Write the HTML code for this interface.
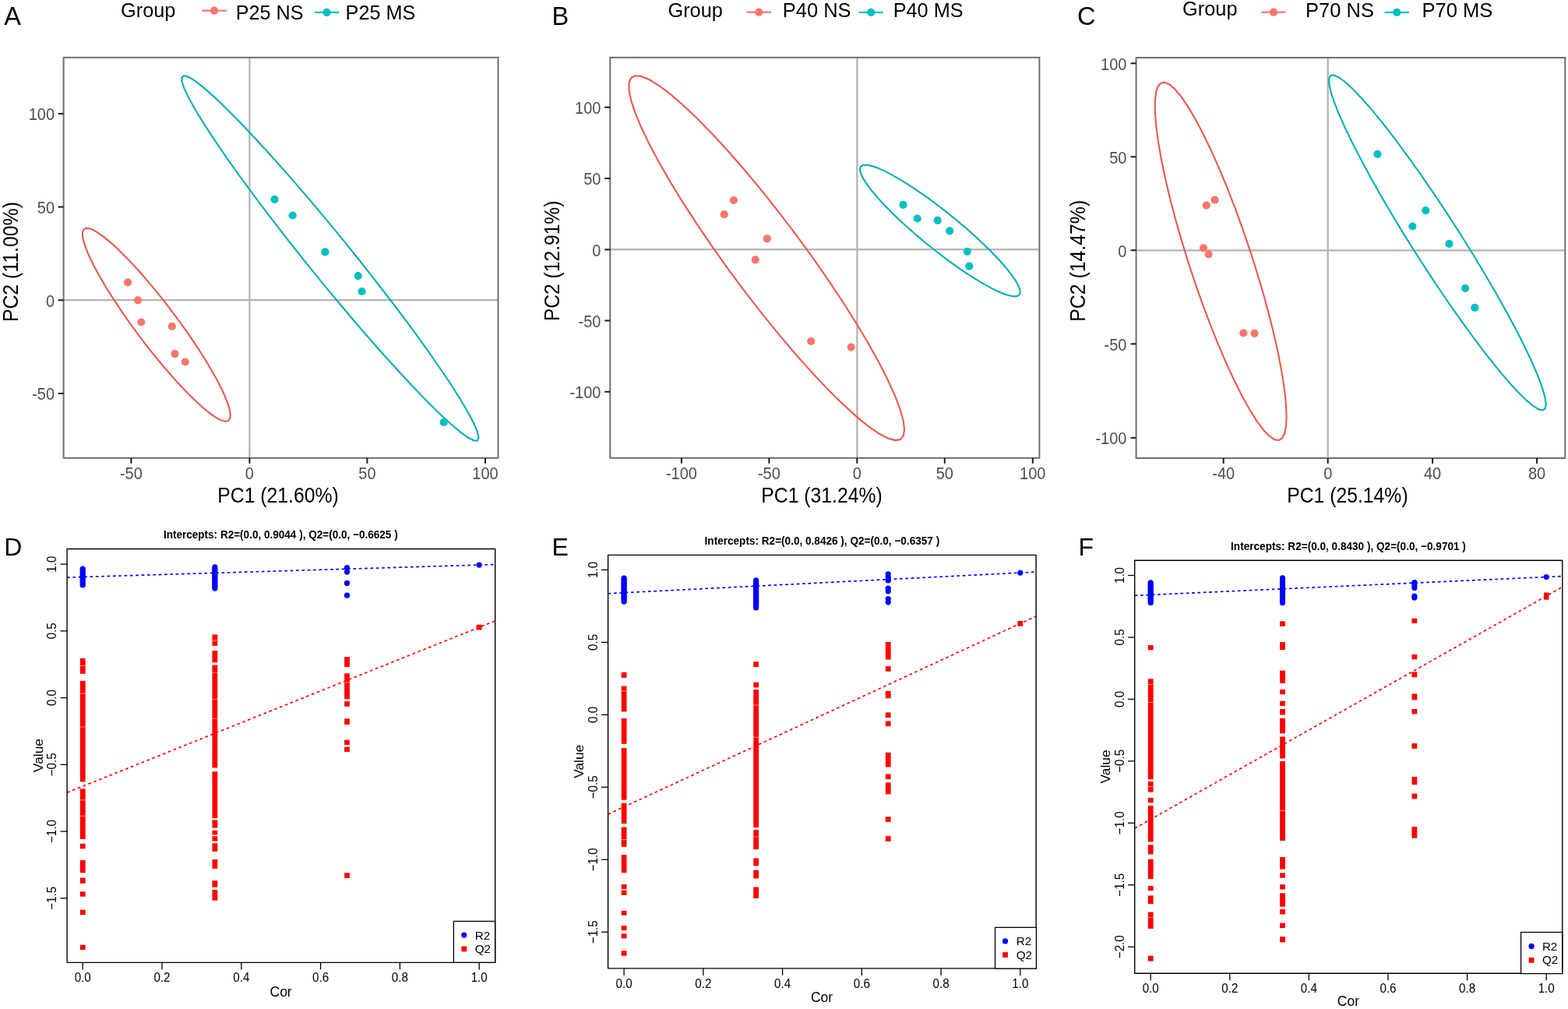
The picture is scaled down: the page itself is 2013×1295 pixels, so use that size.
<!DOCTYPE html>
<html><head><meta charset="utf-8"><title>PCA and permutation plots</title>
<style>html,body{margin:0;padding:0;background:#fff;}body{width:2013px;height:1295px;overflow:hidden;}svg{display:block;}</style>
</head><body>
<svg width="2013" height="1295" viewBox="0 0 2013 1295" font-family="Liberation Sans, Arial, sans-serif">
<rect width="2013" height="1295" fill="#fff"/>
<g>
<text x="5.3" y="32" font-size="32.5" fill="#000">A</text>
<text x="155.03" y="22.1" font-size="24.5" fill="#000" textLength="70.44" lengthAdjust="spacingAndGlyphs" transform="matrix(1,0,0,1.04,0,-0.88)">Group</text>
<line x1="259.3" y1="13.7" x2="290.9" y2="13.7" stroke="#F8766D" stroke-width="2.2"/>
<circle cx="275.1" cy="13.7" r="5.1" fill="#F8766D"/>
<text x="302.74" y="24.8" font-size="24.5" fill="#000" textLength="86.72" lengthAdjust="spacingAndGlyphs" transform="matrix(1,0,0,1.06,0,-1.49)">P25 NS</text>
<line x1="403.9" y1="15.9" x2="435.2" y2="15.9" stroke="#00BFC4" stroke-width="2.2"/>
<circle cx="419.55" cy="15.9" r="5.1" fill="#00BFC4"/>
<text x="443.63" y="24.8" font-size="24.5" fill="#000" textLength="89.73" lengthAdjust="spacingAndGlyphs" transform="matrix(1,0,0,1.06,0,-1.49)">P25 MS</text>
<line x1="81.6" y1="385.2" x2="639.5" y2="385.2" stroke="#B3B3B3" stroke-width="2.3"/>
<line x1="320.4" y1="73.8" x2="320.4" y2="587.8" stroke="#B3B3B3" stroke-width="2.3"/>
<path d="M295.82,533.31 L295.1,537.66 L292.95,540.18 L289.41,540.83 L284.52,539.6 L278.36,536.51 L271.03,531.6 L262.63,524.96 L253.29,516.67 L243.16,506.87 L232.39,495.71 L221.14,483.34 L209.58,469.97 L197.89,455.8 L186.24,441.03 L174.82,425.89 L163.78,410.62 L153.31,395.44 L143.56,380.59 L134.68,366.28 L126.8,352.74 L120.04,340.17 L114.51,328.76 L110.28,318.69 L107.43,310.1 L105.99,303.13 L105.99,297.88 L107.43,294.44 L110.28,292.85 L114.51,293.14 L120.04,295.31 L126.8,299.31 L134.68,305.1 L143.56,312.58 L153.31,321.64 L163.78,332.14 L174.82,343.93 L186.24,356.82 L197.89,370.62 L209.58,385.12 L221.14,400.1 L232.39,415.33 L243.16,430.59 L253.29,445.63 L262.63,460.24 L271.03,474.19 L278.36,487.27 L284.52,499.28 L289.41,510.05 L292.95,519.39 L295.1,527.19 L295.82,533.31 Z" fill="none" stroke="#EA5850" stroke-width="2.1" stroke-linejoin="round"/>
<path d="M614.44,561.8 L613,565.43 L608.68,565.51 L601.57,562.05 L591.76,555.08 L579.4,544.73 L564.68,531.15 L547.83,514.54 L529.09,495.15 L508.76,473.28 L487.14,449.27 L464.56,423.46 L441.37,396.27 L417.9,368.09 L394.53,339.35 L371.59,310.5 L349.45,281.96 L328.44,254.18 L308.87,227.56 L291.04,202.52 L275.23,179.44 L261.66,158.66 L250.56,140.5 L242.08,125.24 L236.35,113.1 L233.47,104.27 L233.47,98.88 L236.35,97.03 L242.08,98.72 L250.56,103.95 L261.66,112.62 L275.23,124.61 L291.04,139.73 L308.87,157.77 L328.44,178.43 L349.45,201.42 L371.59,226.38 L394.53,252.93 L417.9,280.67 L441.37,309.18 L464.56,338.03 L487.14,366.78 L508.76,394.99 L529.09,422.24 L547.83,448.12 L564.68,472.23 L579.4,494.2 L591.76,513.71 L601.57,530.45 L608.68,544.18 L613,554.68 L614.44,561.8 Z" fill="none" stroke="#00AEB3" stroke-width="2.1" stroke-linejoin="round"/>
<circle cx="164" cy="362.4" r="5.1" fill="#F8766D"/>
<circle cx="177" cy="385.4" r="5.1" fill="#F8766D"/>
<circle cx="181.3" cy="413.5" r="5.1" fill="#F8766D"/>
<circle cx="220.8" cy="418.9" r="5.1" fill="#F8766D"/>
<circle cx="224.4" cy="454.1" r="5.1" fill="#F8766D"/>
<circle cx="237.8" cy="464.5" r="5.1" fill="#F8766D"/>
<circle cx="352.5" cy="255.9" r="5.1" fill="#00BFC4"/>
<circle cx="375.7" cy="276.5" r="5.1" fill="#00BFC4"/>
<circle cx="417.4" cy="323.4" r="5.1" fill="#00BFC4"/>
<circle cx="459.8" cy="354.1" r="5.1" fill="#00BFC4"/>
<circle cx="464.5" cy="374" r="5.1" fill="#00BFC4"/>
<circle cx="569.7" cy="542" r="5.1" fill="#00BFC4"/>
<rect x="81.6" y="73.8" width="557.9" height="514" fill="none" stroke="#6E6E6E" stroke-width="2"/>
<line x1="168.4" y1="587.8" x2="168.4" y2="594.8" stroke="#1a1a1a" stroke-width="2"/>
<text x="168.4" y="615.1" font-size="20" fill="#4D4D4D" text-anchor="middle" transform="matrix(1,0,0,1.06,0,-36.91)">-50</text>
<line x1="320.4" y1="587.8" x2="320.4" y2="594.8" stroke="#1a1a1a" stroke-width="2"/>
<text x="320.4" y="615.1" font-size="20" fill="#4D4D4D" text-anchor="middle" transform="matrix(1,0,0,1.06,0,-36.91)">0</text>
<line x1="471.4" y1="587.8" x2="471.4" y2="594.8" stroke="#1a1a1a" stroke-width="2"/>
<text x="471.4" y="615.1" font-size="20" fill="#4D4D4D" text-anchor="middle" transform="matrix(1,0,0,1.06,0,-36.91)">50</text>
<line x1="623" y1="587.8" x2="623" y2="594.8" stroke="#1a1a1a" stroke-width="2"/>
<text x="623" y="615.1" font-size="20" fill="#4D4D4D" text-anchor="middle" transform="matrix(1,0,0,1.06,0,-36.91)">100</text>
<line x1="74.6" y1="145.9" x2="81.6" y2="145.9" stroke="#1a1a1a" stroke-width="2"/>
<text x="70.1" y="154.3" font-size="20" fill="#4D4D4D" text-anchor="end" transform="matrix(1,0,0,1.06,0,-9.26)">100</text>
<line x1="74.6" y1="265.6" x2="81.6" y2="265.6" stroke="#1a1a1a" stroke-width="2"/>
<text x="70.1" y="274" font-size="20" fill="#4D4D4D" text-anchor="end" transform="matrix(1,0,0,1.06,0,-16.44)">50</text>
<line x1="74.6" y1="385.3" x2="81.6" y2="385.3" stroke="#1a1a1a" stroke-width="2"/>
<text x="70.1" y="393.7" font-size="20" fill="#4D4D4D" text-anchor="end" transform="matrix(1,0,0,1.06,0,-23.62)">0</text>
<line x1="74.6" y1="505" x2="81.6" y2="505" stroke="#1a1a1a" stroke-width="2"/>
<text x="70.1" y="513.4" font-size="20" fill="#4D4D4D" text-anchor="end" transform="matrix(1,0,0,1.06,0,-30.8)">-50</text>
<text x="279.27" y="644.8" font-size="24.5" fill="#000" textLength="155.47" lengthAdjust="spacingAndGlyphs" transform="matrix(1,0,0,1.13,0,-83.82)">PC1 (21.60%)</text>
<text transform="translate(23.3,411.1) rotate(-90) scale(1,1.13)" x="-2.01" y="0" font-size="24.5" fill="#000" textLength="154.03" lengthAdjust="spacingAndGlyphs">PC2 (11.00%)</text>
</g>
<g>
<text x="708.5" y="31.8" font-size="32.5" fill="#000">B</text>
<text x="857.43" y="22.1" font-size="24.5" fill="#000" textLength="70.44" lengthAdjust="spacingAndGlyphs" transform="matrix(1,0,0,1.04,0,-0.88)">Group</text>
<line x1="958.5" y1="15.7" x2="990.1" y2="15.7" stroke="#F8766D" stroke-width="2.2"/>
<circle cx="974.3" cy="15.7" r="5.1" fill="#F8766D"/>
<text x="1004.81" y="22.3" font-size="24.5" fill="#000" textLength="87.76" lengthAdjust="spacingAndGlyphs" transform="matrix(1,0,0,1.06,0,-1.34)">P40 NS</text>
<line x1="1102.5" y1="15.9" x2="1133.8" y2="15.9" stroke="#00BFC4" stroke-width="2.2"/>
<circle cx="1118.15" cy="15.9" r="5.1" fill="#00BFC4"/>
<text x="1146.73" y="22.3" font-size="24.5" fill="#000" textLength="89.83" lengthAdjust="spacingAndGlyphs" transform="matrix(1,0,0,1.06,0,-1.34)">P40 MS</text>
<line x1="783.3" y1="320.2" x2="1334.4" y2="320.2" stroke="#B3B3B3" stroke-width="2.3"/>
<line x1="1100.4" y1="73.8" x2="1100.4" y2="587.8" stroke="#B3B3B3" stroke-width="2.3"/>
<path d="M1161.06,551.56 L1159.72,559.57 L1155.72,564.12 L1149.12,565.13 L1140.01,562.59 L1128.54,556.55 L1114.89,547.09 L1099.25,534.35 L1081.86,518.54 L1063,499.88 L1042.94,478.67 L1021.98,455.22 L1000.46,429.89 L978.68,403.06 L956.99,375.14 L935.71,346.55 L915.17,317.73 L895.67,289.12 L877.51,261.14 L860.96,234.22 L846.29,208.77 L833.7,185.17 L823.39,163.79 L815.52,144.94 L810.21,128.92 L807.53,115.96 L807.53,106.26 L810.21,99.98 L815.52,97.19 L823.39,97.96 L833.7,102.25 L846.29,110.02 L860.96,121.14 L877.51,135.44 L895.67,152.71 L915.17,172.68 L935.71,195.06 L956.99,219.49 L978.68,245.62 L1000.46,273.05 L1021.98,301.36 L1042.94,330.11 L1063,358.89 L1081.86,387.24 L1099.25,414.74 L1114.89,440.98 L1128.54,465.54 L1140.01,488.08 L1149.12,508.23 L1155.72,525.7 L1159.72,540.21 L1161.06,551.56 Z" fill="none" stroke="#EA5850" stroke-width="2.1" stroke-linejoin="round"/>
<path d="M1309.74,374.84 L1308.96,377.97 L1306.63,379.87 L1302.79,380.49 L1297.5,379.83 L1290.83,377.9 L1282.89,374.73 L1273.79,370.37 L1263.68,364.88 L1252.71,358.34 L1241.05,350.86 L1228.86,342.56 L1216.34,333.54 L1203.68,323.96 L1191.07,313.95 L1178.69,303.67 L1166.74,293.28 L1155.4,282.93 L1144.84,272.78 L1135.22,262.98 L1126.69,253.68 L1119.37,245.02 L1113.38,237.14 L1108.8,230.15 L1105.71,224.15 L1104.15,219.25 L1104.15,215.51 L1105.71,213 L1108.8,211.74 L1113.38,211.76 L1119.37,213.05 L1126.69,215.61 L1135.22,219.38 L1144.84,224.32 L1155.4,230.34 L1166.74,237.36 L1178.69,245.27 L1191.07,253.95 L1203.68,263.26 L1216.34,273.07 L1228.86,283.24 L1241.05,293.59 L1252.71,303.98 L1263.68,314.26 L1273.79,324.25 L1282.89,333.82 L1290.83,342.81 L1297.5,351.1 L1302.79,358.55 L1306.63,365.05 L1308.96,370.51 L1309.74,374.84 Z" fill="none" stroke="#00AEB3" stroke-width="2.1" stroke-linejoin="round"/>
<circle cx="941.9" cy="257" r="5.1" fill="#F8766D"/>
<circle cx="929.7" cy="275.2" r="5.1" fill="#F8766D"/>
<circle cx="984.8" cy="306.3" r="5.1" fill="#F8766D"/>
<circle cx="969.8" cy="333.3" r="5.1" fill="#F8766D"/>
<circle cx="1041.2" cy="438" r="5.1" fill="#F8766D"/>
<circle cx="1092.7" cy="445.6" r="5.1" fill="#F8766D"/>
<circle cx="1159.5" cy="262.9" r="5.1" fill="#00BFC4"/>
<circle cx="1177.7" cy="280.5" r="5.1" fill="#00BFC4"/>
<circle cx="1203.7" cy="282.9" r="5.1" fill="#00BFC4"/>
<circle cx="1219.2" cy="296.3" r="5.1" fill="#00BFC4"/>
<circle cx="1241.8" cy="322.8" r="5.1" fill="#00BFC4"/>
<circle cx="1244.3" cy="341.7" r="5.1" fill="#00BFC4"/>
<rect x="783.3" y="73.8" width="551.1" height="514" fill="none" stroke="#6E6E6E" stroke-width="2"/>
<line x1="874.9" y1="587.8" x2="874.9" y2="594.8" stroke="#1a1a1a" stroke-width="2"/>
<text x="874.9" y="615.1" font-size="20" fill="#4D4D4D" text-anchor="middle" transform="matrix(1,0,0,1.06,0,-36.91)">-100</text>
<line x1="987.4" y1="587.8" x2="987.4" y2="594.8" stroke="#1a1a1a" stroke-width="2"/>
<text x="987.4" y="615.1" font-size="20" fill="#4D4D4D" text-anchor="middle" transform="matrix(1,0,0,1.06,0,-36.91)">-50</text>
<line x1="1100.3" y1="587.8" x2="1100.3" y2="594.8" stroke="#1a1a1a" stroke-width="2"/>
<text x="1100.3" y="615.1" font-size="20" fill="#4D4D4D" text-anchor="middle" transform="matrix(1,0,0,1.06,0,-36.91)">0</text>
<line x1="1212.8" y1="587.8" x2="1212.8" y2="594.8" stroke="#1a1a1a" stroke-width="2"/>
<text x="1212.8" y="615.1" font-size="20" fill="#4D4D4D" text-anchor="middle" transform="matrix(1,0,0,1.06,0,-36.91)">50</text>
<line x1="1325.8" y1="587.8" x2="1325.8" y2="594.8" stroke="#1a1a1a" stroke-width="2"/>
<text x="1325.8" y="615.1" font-size="20" fill="#4D4D4D" text-anchor="middle" transform="matrix(1,0,0,1.06,0,-36.91)">100</text>
<line x1="776.3" y1="137.7" x2="783.3" y2="137.7" stroke="#1a1a1a" stroke-width="2"/>
<text x="771.4" y="146.1" font-size="20" fill="#4D4D4D" text-anchor="end" transform="matrix(1,0,0,1.06,0,-8.77)">100</text>
<line x1="776.3" y1="229" x2="783.3" y2="229" stroke="#1a1a1a" stroke-width="2"/>
<text x="771.4" y="237.4" font-size="20" fill="#4D4D4D" text-anchor="end" transform="matrix(1,0,0,1.06,0,-14.24)">50</text>
<line x1="776.3" y1="320.3" x2="783.3" y2="320.3" stroke="#1a1a1a" stroke-width="2"/>
<text x="771.4" y="328.7" font-size="20" fill="#4D4D4D" text-anchor="end" transform="matrix(1,0,0,1.06,0,-19.72)">0</text>
<line x1="776.3" y1="411.5" x2="783.3" y2="411.5" stroke="#1a1a1a" stroke-width="2"/>
<text x="771.4" y="419.9" font-size="20" fill="#4D4D4D" text-anchor="end" transform="matrix(1,0,0,1.06,0,-25.19)">-50</text>
<line x1="776.3" y1="502.8" x2="783.3" y2="502.8" stroke="#1a1a1a" stroke-width="2"/>
<text x="771.4" y="511.2" font-size="20" fill="#4D4D4D" text-anchor="end" transform="matrix(1,0,0,1.06,0,-30.67)">-100</text>
<text x="977.27" y="644.8" font-size="24.5" fill="#000" textLength="155.47" lengthAdjust="spacingAndGlyphs" transform="matrix(1,0,0,1.13,0,-83.82)">PC1 (31.24%)</text>
<text transform="translate(718,410.1) rotate(-90) scale(1,1.13)" x="-2.02" y="0" font-size="24.5" fill="#000" textLength="154.54" lengthAdjust="spacingAndGlyphs">PC2 (12.91%)</text>
</g>
<g>
<text x="1383" y="32" font-size="32.5" fill="#000">C</text>
<text x="1518.13" y="20.4" font-size="24.5" fill="#000" textLength="70.44" lengthAdjust="spacingAndGlyphs" transform="matrix(1,0,0,1.04,0,-0.82)">Group</text>
<line x1="1619.3" y1="15.7" x2="1650.6" y2="15.7" stroke="#F8766D" stroke-width="2.2"/>
<circle cx="1634.95" cy="15.7" r="5.1" fill="#F8766D"/>
<text x="1676.11" y="22.1" font-size="24.5" fill="#000" textLength="87.86" lengthAdjust="spacingAndGlyphs" transform="matrix(1,0,0,1.06,0,-1.33)">P70 NS</text>
<line x1="1777.5" y1="15.9" x2="1809" y2="15.9" stroke="#00BFC4" stroke-width="2.2"/>
<circle cx="1793.25" cy="15.9" r="5.1" fill="#00BFC4"/>
<text x="1825.5" y="22.1" font-size="24.5" fill="#000" textLength="90.87" lengthAdjust="spacingAndGlyphs" transform="matrix(1,0,0,1.06,0,-1.33)">P70 MS</text>
<line x1="1458.6" y1="321.3" x2="2009.3" y2="321.3" stroke="#B3B3B3" stroke-width="2.3"/>
<line x1="1704.7" y1="74" x2="1704.7" y2="588" stroke="#B3B3B3" stroke-width="2.3"/>
<path d="M1651.65,534.62 L1651.01,547.18 L1649.1,556.52 L1645.95,562.52 L1641.6,565.06 L1636.13,564.13 L1629.61,559.73 L1622.14,551.93 L1613.84,540.84 L1604.83,526.64 L1595.25,509.54 L1585.25,489.8 L1574.97,467.72 L1564.58,443.63 L1554.22,417.9 L1544.06,390.92 L1534.25,363.1 L1524.94,334.86 L1516.27,306.62 L1508.38,278.82 L1501.37,251.88 L1495.36,226.2 L1490.44,202.18 L1486.68,180.17 L1484.15,160.52 L1482.87,143.52 L1482.87,129.43 L1484.15,118.46 L1486.68,110.77 L1490.44,106.49 L1495.36,105.68 L1501.37,108.36 L1508.38,114.47 L1516.27,123.93 L1524.94,136.6 L1534.25,152.28 L1544.06,170.73 L1554.22,191.68 L1564.58,214.81 L1574.97,239.77 L1585.25,266.17 L1595.25,293.63 L1604.83,321.71 L1613.84,350.01 L1622.14,378.08 L1629.61,405.5 L1636.13,431.86 L1641.6,456.76 L1645.95,479.82 L1649.1,500.68 L1651.01,519.04 L1651.65,534.62 Z" fill="none" stroke="#EA5850" stroke-width="2.1" stroke-linejoin="round"/>
<path d="M1984.7,519.1 L1983.64,524.43 L1980.49,526.53 L1975.29,525.36 L1968.12,520.96 L1959.09,513.38 L1948.34,502.73 L1936.02,489.19 L1922.33,472.94 L1907.48,454.26 L1891.68,433.4 L1875.18,410.69 L1858.23,386.48 L1841.09,361.14 L1824.01,335.03 L1807.25,308.57 L1791.07,282.15 L1775.72,256.18 L1761.42,231.04 L1748.39,207.12 L1736.83,184.78 L1726.92,164.36 L1718.81,146.17 L1712.61,130.48 L1708.43,117.54 L1706.32,107.53 L1706.32,100.62 L1708.43,96.9 L1712.61,96.43 L1718.81,99.22 L1726.92,105.22 L1736.83,114.35 L1748.39,126.47 L1761.42,141.39 L1775.72,158.89 L1791.07,178.7 L1807.25,200.52 L1824.01,224.03 L1841.09,248.85 L1858.23,274.63 L1875.18,300.96 L1891.68,327.45 L1907.48,353.7 L1922.33,379.3 L1936.02,403.88 L1948.34,427.05 L1959.09,448.47 L1968.12,467.81 L1975.29,484.78 L1980.49,499.13 L1983.64,510.62 L1984.7,519.1 Z" fill="none" stroke="#00AEB3" stroke-width="2.1" stroke-linejoin="round"/>
<circle cx="1548.8" cy="263.6" r="5.1" fill="#F8766D"/>
<circle cx="1559.6" cy="256.7" r="5.1" fill="#F8766D"/>
<circle cx="1545" cy="318.4" r="5.1" fill="#F8766D"/>
<circle cx="1551.6" cy="326.4" r="5.1" fill="#F8766D"/>
<circle cx="1596.4" cy="427.5" r="5.1" fill="#F8766D"/>
<circle cx="1610.6" cy="427.8" r="5.1" fill="#F8766D"/>
<circle cx="1768.5" cy="197.8" r="5.1" fill="#00BFC4"/>
<circle cx="1830.3" cy="270.1" r="5.1" fill="#00BFC4"/>
<circle cx="1813.4" cy="290.5" r="5.1" fill="#00BFC4"/>
<circle cx="1860.5" cy="312.9" r="5.1" fill="#00BFC4"/>
<circle cx="1881.1" cy="370" r="5.1" fill="#00BFC4"/>
<circle cx="1893.3" cy="394.9" r="5.1" fill="#00BFC4"/>
<rect x="1458.6" y="74" width="550.7" height="514" fill="none" stroke="#6E6E6E" stroke-width="2"/>
<line x1="1570.7" y1="588" x2="1570.7" y2="595" stroke="#1a1a1a" stroke-width="2"/>
<text x="1570.7" y="615.3" font-size="20" fill="#4D4D4D" text-anchor="middle" transform="matrix(1,0,0,1.06,0,-36.92)">-40</text>
<line x1="1704.7" y1="588" x2="1704.7" y2="595" stroke="#1a1a1a" stroke-width="2"/>
<text x="1704.7" y="615.3" font-size="20" fill="#4D4D4D" text-anchor="middle" transform="matrix(1,0,0,1.06,0,-36.92)">0</text>
<line x1="1839.1" y1="588" x2="1839.1" y2="595" stroke="#1a1a1a" stroke-width="2"/>
<text x="1839.1" y="615.3" font-size="20" fill="#4D4D4D" text-anchor="middle" transform="matrix(1,0,0,1.06,0,-36.92)">40</text>
<line x1="1973.1" y1="588" x2="1973.1" y2="595" stroke="#1a1a1a" stroke-width="2"/>
<text x="1973.1" y="615.3" font-size="20" fill="#4D4D4D" text-anchor="middle" transform="matrix(1,0,0,1.06,0,-36.92)">80</text>
<line x1="1451.6" y1="81.3" x2="1458.6" y2="81.3" stroke="#1a1a1a" stroke-width="2"/>
<text x="1446.4" y="89.7" font-size="20" fill="#4D4D4D" text-anchor="end" transform="matrix(1,0,0,1.06,0,-5.38)">100</text>
<line x1="1451.6" y1="201.3" x2="1458.6" y2="201.3" stroke="#1a1a1a" stroke-width="2"/>
<text x="1446.4" y="209.7" font-size="20" fill="#4D4D4D" text-anchor="end" transform="matrix(1,0,0,1.06,0,-12.58)">50</text>
<line x1="1451.6" y1="321.2" x2="1458.6" y2="321.2" stroke="#1a1a1a" stroke-width="2"/>
<text x="1446.4" y="329.6" font-size="20" fill="#4D4D4D" text-anchor="end" transform="matrix(1,0,0,1.06,0,-19.78)">0</text>
<line x1="1451.6" y1="441.4" x2="1458.6" y2="441.4" stroke="#1a1a1a" stroke-width="2"/>
<text x="1446.4" y="449.8" font-size="20" fill="#4D4D4D" text-anchor="end" transform="matrix(1,0,0,1.06,0,-26.99)">-50</text>
<line x1="1451.6" y1="561.9" x2="1458.6" y2="561.9" stroke="#1a1a1a" stroke-width="2"/>
<text x="1446.4" y="570.3" font-size="20" fill="#4D4D4D" text-anchor="end" transform="matrix(1,0,0,1.06,0,-34.22)">-100</text>
<text x="1652.17" y="644.8" font-size="24.5" fill="#000" textLength="155.47" lengthAdjust="spacingAndGlyphs" transform="matrix(1,0,0,1.13,0,-83.82)">PC1 (25.14%)</text>
<text transform="translate(1393.3,410.8) rotate(-90) scale(1,1.13)" x="-2.04" y="0" font-size="24.5" fill="#000" textLength="156.08" lengthAdjust="spacingAndGlyphs">PC2 (14.47%)</text>
</g>
<g>
<text x="5.3" y="713.2" font-size="32" fill="#000">D</text>
<text x="209.89" y="691.5" font-size="14" font-weight="bold" fill="#000" textLength="300.78" lengthAdjust="spacingAndGlyphs" transform="matrix(1,0,0,1.05,0,-34.58)">Intercepts: R2=(0.0, 0.9044 ), Q2=(0.0, −0.6625 )</text>
<clipPath id="clipD"><rect x="86.1" y="704.5" width="549.6" height="530.9"/></clipPath>
<g clip-path="url(#clipD)">
<circle cx="106.2" cy="730.1" r="3.6" fill="#0000FF"/>
<circle cx="106.2" cy="732.19" r="3.6" fill="#0000FF"/>
<circle cx="106.2" cy="734.28" r="3.6" fill="#0000FF"/>
<circle cx="106.2" cy="736.37" r="3.6" fill="#0000FF"/>
<circle cx="106.2" cy="738.46" r="3.6" fill="#0000FF"/>
<circle cx="106.2" cy="740.55" r="3.6" fill="#0000FF"/>
<circle cx="106.2" cy="742.64" r="3.6" fill="#0000FF"/>
<circle cx="106.2" cy="744.73" r="3.6" fill="#0000FF"/>
<circle cx="106.2" cy="746.82" r="3.6" fill="#0000FF"/>
<circle cx="106.2" cy="748.91" r="3.6" fill="#0000FF"/>
<circle cx="106.2" cy="751" r="3.6" fill="#0000FF"/>
<circle cx="275.87" cy="727.9" r="3.6" fill="#0000FF"/>
<circle cx="275.87" cy="729.84" r="3.6" fill="#0000FF"/>
<circle cx="275.87" cy="731.79" r="3.6" fill="#0000FF"/>
<circle cx="275.87" cy="733.73" r="3.6" fill="#0000FF"/>
<circle cx="275.87" cy="735.67" r="3.6" fill="#0000FF"/>
<circle cx="275.87" cy="737.61" r="3.6" fill="#0000FF"/>
<circle cx="275.87" cy="739.56" r="3.6" fill="#0000FF"/>
<circle cx="275.87" cy="741.5" r="3.6" fill="#0000FF"/>
<circle cx="275.87" cy="743.44" r="3.6" fill="#0000FF"/>
<circle cx="275.87" cy="745.39" r="3.6" fill="#0000FF"/>
<circle cx="275.87" cy="747.33" r="3.6" fill="#0000FF"/>
<circle cx="275.87" cy="749.27" r="3.6" fill="#0000FF"/>
<circle cx="275.87" cy="751.21" r="3.6" fill="#0000FF"/>
<circle cx="275.87" cy="753.16" r="3.6" fill="#0000FF"/>
<circle cx="275.87" cy="755.1" r="3.6" fill="#0000FF"/>
<circle cx="445.53" cy="728.7" r="3.6" fill="#0000FF"/>
<circle cx="445.53" cy="734.1" r="3.6" fill="#0000FF"/>
<circle cx="445.53" cy="748.4" r="3.6" fill="#0000FF"/>
<circle cx="445.53" cy="764.2" r="3.6" fill="#0000FF"/>
<circle cx="615.2" cy="725.1" r="3.6" fill="#0000FF"/>
<rect x="102.8" y="844.9" width="6.8" height="19.9" fill="#FF0000"/>
<rect x="102.8" y="854.25" width="6.8" height="0.7" fill="#fff" opacity="0.75"/>
<rect x="102.8" y="873.8" width="6.8" height="129.6" fill="#FF0000"/>
<rect x="102.8" y="889.65" width="6.8" height="0.7" fill="#fff" opacity="0.75"/>
<rect x="102.8" y="932.65" width="6.8" height="0.7" fill="#fff" opacity="0.75"/>
<rect x="102.8" y="1012.3" width="6.8" height="64.6" fill="#FF0000"/>
<rect x="102.8" y="1026.55" width="6.8" height="0.7" fill="#fff" opacity="0.75"/>
<rect x="102.8" y="1046.85" width="6.8" height="0.7" fill="#fff" opacity="0.75"/>
<rect x="102.8" y="1082.8" width="6.8" height="6.5" fill="#FF0000"/>
<rect x="102.8" y="1104" width="6.8" height="16.2" fill="#FF0000"/>
<rect x="102.8" y="1126.6" width="6.8" height="7.2" fill="#FF0000"/>
<rect x="102.8" y="1144.3" width="6.8" height="6.4" fill="#FF0000"/>
<rect x="102.8" y="1167.7" width="6.8" height="6.5" fill="#FF0000"/>
<rect x="102.8" y="1212.7" width="6.8" height="6.3" fill="#FF0000"/>
<rect x="272.47" y="814.4" width="6.8" height="14.5" fill="#FF0000"/>
<rect x="272.47" y="821.65" width="6.8" height="0.7" fill="#fff" opacity="0.75"/>
<rect x="272.47" y="835.1" width="6.8" height="15.3" fill="#FF0000"/>
<rect x="272.47" y="853.5" width="6.8" height="131.9" fill="#FF0000"/>
<rect x="272.47" y="862.85" width="6.8" height="0.7" fill="#fff" opacity="0.75"/>
<rect x="272.47" y="897.25" width="6.8" height="0.7" fill="#fff" opacity="0.75"/>
<rect x="272.47" y="921.85" width="6.8" height="0.7" fill="#fff" opacity="0.75"/>
<rect x="272.47" y="990.2" width="6.8" height="60" fill="#FF0000"/>
<rect x="272.47" y="1052.4" width="6.8" height="10.2" fill="#FF0000"/>
<rect x="272.47" y="1065.7" width="6.8" height="5.8" fill="#FF0000"/>
<rect x="272.47" y="1073.2" width="6.8" height="6.4" fill="#FF0000"/>
<rect x="272.47" y="1082.2" width="6.8" height="10.7" fill="#FF0000"/>
<rect x="272.47" y="1103" width="6.8" height="11.9" fill="#FF0000"/>
<rect x="272.47" y="1130.2" width="6.8" height="8.5" fill="#FF0000"/>
<rect x="272.47" y="1142.1" width="6.8" height="13.6" fill="#FF0000"/>
<rect x="442.13" y="843.1" width="6.8" height="12.8" fill="#FF0000"/>
<rect x="442.13" y="864.3" width="6.8" height="33" fill="#FF0000"/>
<rect x="442.13" y="875.35" width="6.8" height="0.7" fill="#fff" opacity="0.75"/>
<rect x="442.13" y="900" width="6.8" height="6.8" fill="#FF0000"/>
<rect x="442.13" y="922.4" width="6.8" height="7.5" fill="#FF0000"/>
<rect x="442.13" y="949.6" width="6.8" height="6.4" fill="#FF0000"/>
<rect x="442.13" y="958.6" width="6.8" height="6.4" fill="#FF0000"/>
<rect x="442.13" y="1120.3" width="6.8" height="6.7" fill="#FF0000"/>
<rect x="611.8" y="801.7" width="6.8" height="6.8" fill="#FF0000"/>
<line x1="86.1" y1="741.09" x2="635.7" y2="724.48" stroke="#0000FF" stroke-width="1.7" stroke-dasharray="3.7 3.65"/>
<line x1="86.1" y1="1017.22" x2="635.7" y2="796.88" stroke="#FF0000" stroke-width="1.7" stroke-dasharray="3.7 3.65"/>
</g>
<rect x="86.1" y="704.5" width="549.6" height="530.9" fill="none" stroke="#000" stroke-width="1.4" stroke-linejoin="round"/>
<line x1="106.2" y1="1235.4" x2="106.2" y2="1244.4" stroke="#000" stroke-width="1.3"/>
<text x="106.2" y="1260.5" font-size="15.2" fill="#000" text-anchor="middle" transform="matrix(1,0,0,1.09,0,-113.45)">0.0</text>
<line x1="208" y1="1235.4" x2="208" y2="1244.4" stroke="#000" stroke-width="1.3"/>
<text x="208" y="1260.5" font-size="15.2" fill="#000" text-anchor="middle" transform="matrix(1,0,0,1.09,0,-113.45)">0.2</text>
<line x1="309.8" y1="1235.4" x2="309.8" y2="1244.4" stroke="#000" stroke-width="1.3"/>
<text x="309.8" y="1260.5" font-size="15.2" fill="#000" text-anchor="middle" transform="matrix(1,0,0,1.09,0,-113.45)">0.4</text>
<line x1="411.6" y1="1235.4" x2="411.6" y2="1244.4" stroke="#000" stroke-width="1.3"/>
<text x="411.6" y="1260.5" font-size="15.2" fill="#000" text-anchor="middle" transform="matrix(1,0,0,1.09,0,-113.45)">0.6</text>
<line x1="513.4" y1="1235.4" x2="513.4" y2="1244.4" stroke="#000" stroke-width="1.3"/>
<text x="513.4" y="1260.5" font-size="15.2" fill="#000" text-anchor="middle" transform="matrix(1,0,0,1.09,0,-113.45)">0.8</text>
<line x1="615.2" y1="1235.4" x2="615.2" y2="1244.4" stroke="#000" stroke-width="1.3"/>
<text x="615.2" y="1260.5" font-size="15.2" fill="#000" text-anchor="middle" transform="matrix(1,0,0,1.09,0,-113.45)">1.0</text>
<line x1="77.5" y1="724.09" x2="86.1" y2="724.09" stroke="#000" stroke-width="1.3"/>
<text transform="translate(72,724.09) rotate(-90) scale(1,1.09)" font-size="15.2" fill="#000" text-anchor="middle">1.0</text>
<line x1="77.5" y1="809.82" x2="86.1" y2="809.82" stroke="#000" stroke-width="1.3"/>
<text transform="translate(72,809.82) rotate(-90) scale(1,1.09)" font-size="15.2" fill="#000" text-anchor="middle">0.5</text>
<line x1="77.5" y1="895.56" x2="86.1" y2="895.56" stroke="#000" stroke-width="1.3"/>
<text transform="translate(72,895.56) rotate(-90) scale(1,1.09)" font-size="15.2" fill="#000" text-anchor="middle">0.0</text>
<line x1="77.5" y1="981.29" x2="86.1" y2="981.29" stroke="#000" stroke-width="1.3"/>
<text transform="translate(72,981.29) rotate(-90) scale(1,1.09)" font-size="15.2" fill="#000" text-anchor="middle">−0.5</text>
<line x1="77.5" y1="1067.03" x2="86.1" y2="1067.03" stroke="#000" stroke-width="1.3"/>
<text transform="translate(72,1067.03) rotate(-90) scale(1,1.09)" font-size="15.2" fill="#000" text-anchor="middle">−1.0</text>
<line x1="77.5" y1="1152.76" x2="86.1" y2="1152.76" stroke="#000" stroke-width="1.3"/>
<text transform="translate(72,1152.76) rotate(-90) scale(1,1.09)" font-size="15.2" fill="#000" text-anchor="middle">−1.5</text>
<text x="346.51" y="1278.5" font-size="17.5" fill="#000" textLength="28.18" lengthAdjust="spacingAndGlyphs">Cor</text>
<text transform="translate(54.6,991.1) rotate(-90)" x="-0.07" y="0" font-size="17.2" fill="#000" textLength="43.12" lengthAdjust="spacingAndGlyphs">Value</text>
<rect x="582.4" y="1182.4" width="53.2" height="52.9" fill="#fff" stroke="#000" stroke-width="1.3"/>
<circle cx="595.8" cy="1200.1" r="3.6" fill="#0000FF"/>
<rect x="592.4" y="1214.5" width="6.8" height="6.8" fill="#FF0000"/>
<text x="609.8" y="1205.7" font-size="15.2" fill="#000">R2</text>
<text x="609.8" y="1223.1" font-size="15.2" fill="#000">Q2</text>
</g>
<g>
<text x="708.4" y="713.2" font-size="32" fill="#000">E</text>
<text x="904.59" y="699.1" font-size="14" font-weight="bold" fill="#000" textLength="301.58" lengthAdjust="spacingAndGlyphs" transform="matrix(1,0,0,1.05,0,-34.96)">Intercepts: R2=(0.0, 0.8426 ), Q2=(0.0, −0.6357 )</text>
<clipPath id="clipE"><rect x="780.6" y="712.4" width="549.5" height="530.5"/></clipPath>
<g clip-path="url(#clipE)">
<circle cx="801.1" cy="742.2" r="3.6" fill="#0000FF"/>
<circle cx="801.1" cy="744.2" r="3.6" fill="#0000FF"/>
<circle cx="801.1" cy="746.2" r="3.6" fill="#0000FF"/>
<circle cx="801.1" cy="748.2" r="3.6" fill="#0000FF"/>
<circle cx="801.1" cy="750.2" r="3.6" fill="#0000FF"/>
<circle cx="801.1" cy="752.2" r="3.6" fill="#0000FF"/>
<circle cx="801.1" cy="754.2" r="3.6" fill="#0000FF"/>
<circle cx="801.1" cy="756.2" r="3.6" fill="#0000FF"/>
<circle cx="801.1" cy="758.2" r="3.6" fill="#0000FF"/>
<circle cx="801.1" cy="760.2" r="3.6" fill="#0000FF"/>
<circle cx="801.1" cy="762.2" r="3.6" fill="#0000FF"/>
<circle cx="801.1" cy="764.2" r="3.6" fill="#0000FF"/>
<circle cx="801.1" cy="766.2" r="3.6" fill="#0000FF"/>
<circle cx="801.1" cy="768.2" r="3.6" fill="#0000FF"/>
<circle cx="801.1" cy="770.2" r="3.6" fill="#0000FF"/>
<circle cx="801.1" cy="772.2" r="3.6" fill="#0000FF"/>
<circle cx="970.67" cy="744.8" r="3.6" fill="#0000FF"/>
<circle cx="970.67" cy="746.76" r="3.6" fill="#0000FF"/>
<circle cx="970.67" cy="748.71" r="3.6" fill="#0000FF"/>
<circle cx="970.67" cy="750.67" r="3.6" fill="#0000FF"/>
<circle cx="970.67" cy="752.62" r="3.6" fill="#0000FF"/>
<circle cx="970.67" cy="754.58" r="3.6" fill="#0000FF"/>
<circle cx="970.67" cy="756.53" r="3.6" fill="#0000FF"/>
<circle cx="970.67" cy="758.49" r="3.6" fill="#0000FF"/>
<circle cx="970.67" cy="760.44" r="3.6" fill="#0000FF"/>
<circle cx="970.67" cy="762.4" r="3.6" fill="#0000FF"/>
<circle cx="970.67" cy="764.36" r="3.6" fill="#0000FF"/>
<circle cx="970.67" cy="766.31" r="3.6" fill="#0000FF"/>
<circle cx="970.67" cy="768.27" r="3.6" fill="#0000FF"/>
<circle cx="970.67" cy="770.22" r="3.6" fill="#0000FF"/>
<circle cx="970.67" cy="772.18" r="3.6" fill="#0000FF"/>
<circle cx="970.67" cy="774.13" r="3.6" fill="#0000FF"/>
<circle cx="970.67" cy="776.09" r="3.6" fill="#0000FF"/>
<circle cx="970.67" cy="778.04" r="3.6" fill="#0000FF"/>
<circle cx="970.67" cy="780" r="3.6" fill="#0000FF"/>
<circle cx="1140.23" cy="736.8" r="3.6" fill="#0000FF"/>
<circle cx="1140.23" cy="740.85" r="3.6" fill="#0000FF"/>
<circle cx="1140.23" cy="744.9" r="3.6" fill="#0000FF"/>
<circle cx="1140.23" cy="755" r="3.6" fill="#0000FF"/>
<circle cx="1140.23" cy="758.8" r="3.6" fill="#0000FF"/>
<circle cx="1140.23" cy="768.6" r="3.6" fill="#0000FF"/>
<circle cx="1140.23" cy="772.8" r="3.6" fill="#0000FF"/>
<circle cx="1309.8" cy="735.1" r="3.6" fill="#0000FF"/>
<rect x="797.7" y="862.8" width="6.8" height="7.2" fill="#FF0000"/>
<rect x="797.7" y="880.6" width="6.8" height="32.8" fill="#FF0000"/>
<rect x="797.7" y="886.55" width="6.8" height="0.7" fill="#fff" opacity="0.75"/>
<rect x="797.7" y="921.9" width="6.8" height="32.9" fill="#FF0000"/>
<rect x="797.7" y="959.9" width="6.8" height="66.8" fill="#FF0000"/>
<rect x="797.7" y="1030.7" width="6.8" height="26.5" fill="#FF0000"/>
<rect x="797.7" y="1061.5" width="6.8" height="25.4" fill="#FF0000"/>
<rect x="797.7" y="1077.25" width="6.8" height="0.7" fill="#fff" opacity="0.75"/>
<rect x="797.7" y="1097" width="6.8" height="23.2" fill="#FF0000"/>
<rect x="797.7" y="1135" width="6.8" height="6.1" fill="#FF0000"/>
<rect x="797.7" y="1142.4" width="6.8" height="6.5" fill="#FF0000"/>
<rect x="797.7" y="1168.9" width="6.8" height="5.9" fill="#FF0000"/>
<rect x="797.7" y="1188.1" width="6.8" height="6.1" fill="#FF0000"/>
<rect x="797.7" y="1198.3" width="6.8" height="6.1" fill="#FF0000"/>
<rect x="797.7" y="1220.2" width="6.8" height="6.5" fill="#FF0000"/>
<rect x="967.27" y="849.3" width="6.8" height="6.8" fill="#FF0000"/>
<rect x="967.27" y="875.7" width="6.8" height="6.7" fill="#FF0000"/>
<rect x="967.27" y="885" width="6.8" height="177.1" fill="#FF0000"/>
<rect x="967.27" y="904.65" width="6.8" height="0.7" fill="#fff" opacity="0.75"/>
<rect x="967.27" y="945.75" width="6.8" height="0.7" fill="#fff" opacity="0.75"/>
<rect x="967.27" y="1065.1" width="6.8" height="25" fill="#FF0000"/>
<rect x="967.27" y="1073.65" width="6.8" height="0.7" fill="#fff" opacity="0.75"/>
<rect x="967.27" y="1101.5" width="6.8" height="9.8" fill="#FF0000"/>
<rect x="967.27" y="1116.7" width="6.8" height="10.7" fill="#FF0000"/>
<rect x="967.27" y="1138.5" width="6.8" height="14.4" fill="#FF0000"/>
<rect x="1136.83" y="823.9" width="6.8" height="22.6" fill="#FF0000"/>
<rect x="1136.83" y="855" width="6.8" height="6.8" fill="#FF0000"/>
<rect x="1136.83" y="886.9" width="6.8" height="9.3" fill="#FF0000"/>
<rect x="1136.83" y="914.4" width="6.8" height="6.8" fill="#FF0000"/>
<rect x="1136.83" y="925.4" width="6.8" height="6.8" fill="#FF0000"/>
<rect x="1136.83" y="965.8" width="6.8" height="18.7" fill="#FF0000"/>
<rect x="1136.83" y="993.5" width="6.8" height="6.6" fill="#FF0000"/>
<rect x="1136.83" y="1004.4" width="6.8" height="14.9" fill="#FF0000"/>
<rect x="1136.83" y="1048.2" width="6.8" height="6.8" fill="#FF0000"/>
<rect x="1136.83" y="1073.1" width="6.8" height="6.8" fill="#FF0000"/>
<rect x="1306.4" y="796.9" width="6.8" height="6.8" fill="#FF0000"/>
<line x1="780.6" y1="761.74" x2="1330.1" y2="734.08" stroke="#0000FF" stroke-width="1.7" stroke-dasharray="3.7 3.65"/>
<line x1="780.6" y1="1045.02" x2="1330.1" y2="790.91" stroke="#FF0000" stroke-width="1.7" stroke-dasharray="3.7 3.65"/>
</g>
<rect x="780.6" y="712.4" width="549.5" height="530.5" fill="none" stroke="#000" stroke-width="1.4" stroke-linejoin="round"/>
<line x1="801.1" y1="1242.9" x2="801.1" y2="1251.9" stroke="#000" stroke-width="1.3"/>
<text x="801.1" y="1267.8" font-size="15.2" fill="#000" text-anchor="middle" transform="matrix(1,0,0,1.09,0,-114.1)">0.0</text>
<line x1="902.84" y1="1242.9" x2="902.84" y2="1251.9" stroke="#000" stroke-width="1.3"/>
<text x="902.84" y="1267.8" font-size="15.2" fill="#000" text-anchor="middle" transform="matrix(1,0,0,1.09,0,-114.1)">0.2</text>
<line x1="1004.58" y1="1242.9" x2="1004.58" y2="1251.9" stroke="#000" stroke-width="1.3"/>
<text x="1004.58" y="1267.8" font-size="15.2" fill="#000" text-anchor="middle" transform="matrix(1,0,0,1.09,0,-114.1)">0.4</text>
<line x1="1106.32" y1="1242.9" x2="1106.32" y2="1251.9" stroke="#000" stroke-width="1.3"/>
<text x="1106.32" y="1267.8" font-size="15.2" fill="#000" text-anchor="middle" transform="matrix(1,0,0,1.09,0,-114.1)">0.6</text>
<line x1="1208.06" y1="1242.9" x2="1208.06" y2="1251.9" stroke="#000" stroke-width="1.3"/>
<text x="1208.06" y="1267.8" font-size="15.2" fill="#000" text-anchor="middle" transform="matrix(1,0,0,1.09,0,-114.1)">0.8</text>
<line x1="1309.8" y1="1242.9" x2="1309.8" y2="1251.9" stroke="#000" stroke-width="1.3"/>
<text x="1309.8" y="1267.8" font-size="15.2" fill="#000" text-anchor="middle" transform="matrix(1,0,0,1.09,0,-114.1)">1.0</text>
<line x1="772" y1="731.45" x2="780.6" y2="731.45" stroke="#000" stroke-width="1.3"/>
<text transform="translate(766.5,731.45) rotate(-90) scale(1,1.09)" font-size="15.2" fill="#000" text-anchor="middle">1.0</text>
<line x1="772" y1="824.4" x2="780.6" y2="824.4" stroke="#000" stroke-width="1.3"/>
<text transform="translate(766.5,824.4) rotate(-90) scale(1,1.09)" font-size="15.2" fill="#000" text-anchor="middle">0.5</text>
<line x1="772" y1="917.36" x2="780.6" y2="917.36" stroke="#000" stroke-width="1.3"/>
<text transform="translate(766.5,917.36) rotate(-90) scale(1,1.09)" font-size="15.2" fill="#000" text-anchor="middle">0.0</text>
<line x1="772" y1="1010.32" x2="780.6" y2="1010.32" stroke="#000" stroke-width="1.3"/>
<text transform="translate(766.5,1010.32) rotate(-90) scale(1,1.09)" font-size="15.2" fill="#000" text-anchor="middle">−0.5</text>
<line x1="772" y1="1103.27" x2="780.6" y2="1103.27" stroke="#000" stroke-width="1.3"/>
<text transform="translate(766.5,1103.27) rotate(-90) scale(1,1.09)" font-size="15.2" fill="#000" text-anchor="middle">−1.0</text>
<line x1="772" y1="1196.22" x2="780.6" y2="1196.22" stroke="#000" stroke-width="1.3"/>
<text transform="translate(766.5,1196.22) rotate(-90) scale(1,1.09)" font-size="15.2" fill="#000" text-anchor="middle">−1.5</text>
<text x="1040.96" y="1285.7" font-size="17.5" fill="#000" textLength="28.18" lengthAdjust="spacingAndGlyphs">Cor</text>
<text transform="translate(749.1,998.8) rotate(-90)" x="-0.07" y="0" font-size="17.2" fill="#000" textLength="43.12" lengthAdjust="spacingAndGlyphs">Value</text>
<rect x="1277.5" y="1190.3" width="52.9" height="52.8" fill="#fff" stroke="#000" stroke-width="1.3"/>
<circle cx="1290.5" cy="1207.9" r="3.6" fill="#0000FF"/>
<rect x="1287.1" y="1222.1" width="6.8" height="6.8" fill="#FF0000"/>
<text x="1304.7" y="1213" font-size="15.2" fill="#000">R2</text>
<text x="1304.7" y="1230.8" font-size="15.2" fill="#000">Q2</text>
</g>
<g>
<text x="1384.5" y="713.2" font-size="32" fill="#000">F</text>
<text x="1580.09" y="706.1" font-size="14" font-weight="bold" fill="#000" textLength="301.79" lengthAdjust="spacingAndGlyphs" transform="matrix(1,0,0,1.05,0,-35.31)">Intercepts: R2=(0.0, 0.8430 ), Q2=(0.0, −0.9701 )</text>
<clipPath id="clipF"><rect x="1456.7" y="719.3" width="549.1" height="530"/></clipPath>
<g clip-path="url(#clipF)">
<circle cx="1477.2" cy="747.8" r="3.6" fill="#0000FF"/>
<circle cx="1477.2" cy="749.77" r="3.6" fill="#0000FF"/>
<circle cx="1477.2" cy="751.74" r="3.6" fill="#0000FF"/>
<circle cx="1477.2" cy="753.71" r="3.6" fill="#0000FF"/>
<circle cx="1477.2" cy="755.68" r="3.6" fill="#0000FF"/>
<circle cx="1477.2" cy="757.65" r="3.6" fill="#0000FF"/>
<circle cx="1477.2" cy="759.62" r="3.6" fill="#0000FF"/>
<circle cx="1477.2" cy="761.58" r="3.6" fill="#0000FF"/>
<circle cx="1477.2" cy="763.55" r="3.6" fill="#0000FF"/>
<circle cx="1477.2" cy="765.52" r="3.6" fill="#0000FF"/>
<circle cx="1477.2" cy="767.49" r="3.6" fill="#0000FF"/>
<circle cx="1477.2" cy="769.46" r="3.6" fill="#0000FF"/>
<circle cx="1477.2" cy="771.43" r="3.6" fill="#0000FF"/>
<circle cx="1477.2" cy="773.4" r="3.6" fill="#0000FF"/>
<circle cx="1646.53" cy="741.9" r="3.6" fill="#0000FF"/>
<circle cx="1646.53" cy="743.89" r="3.6" fill="#0000FF"/>
<circle cx="1646.53" cy="745.88" r="3.6" fill="#0000FF"/>
<circle cx="1646.53" cy="747.86" r="3.6" fill="#0000FF"/>
<circle cx="1646.53" cy="749.85" r="3.6" fill="#0000FF"/>
<circle cx="1646.53" cy="751.84" r="3.6" fill="#0000FF"/>
<circle cx="1646.53" cy="753.82" r="3.6" fill="#0000FF"/>
<circle cx="1646.53" cy="755.81" r="3.6" fill="#0000FF"/>
<circle cx="1646.53" cy="757.8" r="3.6" fill="#0000FF"/>
<circle cx="1646.53" cy="759.79" r="3.6" fill="#0000FF"/>
<circle cx="1646.53" cy="761.77" r="3.6" fill="#0000FF"/>
<circle cx="1646.53" cy="763.76" r="3.6" fill="#0000FF"/>
<circle cx="1646.53" cy="765.75" r="3.6" fill="#0000FF"/>
<circle cx="1646.53" cy="767.74" r="3.6" fill="#0000FF"/>
<circle cx="1646.53" cy="769.72" r="3.6" fill="#0000FF"/>
<circle cx="1646.53" cy="771.71" r="3.6" fill="#0000FF"/>
<circle cx="1646.53" cy="773.7" r="3.6" fill="#0000FF"/>
<circle cx="1815.87" cy="747.5" r="3.6" fill="#0000FF"/>
<circle cx="1815.87" cy="750.95" r="3.6" fill="#0000FF"/>
<circle cx="1815.87" cy="754.4" r="3.6" fill="#0000FF"/>
<circle cx="1815.87" cy="765" r="3.6" fill="#0000FF"/>
<circle cx="1815.87" cy="767.1" r="3.6" fill="#0000FF"/>
<circle cx="1985.2" cy="740.5" r="3.6" fill="#0000FF"/>
<rect x="1473.8" y="828" width="6.8" height="6.3" fill="#FF0000"/>
<rect x="1473.8" y="871.3" width="6.8" height="129" fill="#FF0000"/>
<rect x="1473.8" y="878.05" width="6.8" height="0.7" fill="#fff" opacity="0.75"/>
<rect x="1473.8" y="901.15" width="6.8" height="0.7" fill="#fff" opacity="0.75"/>
<rect x="1473.8" y="1002.9" width="6.8" height="13.7" fill="#FF0000"/>
<rect x="1473.8" y="1009.25" width="6.8" height="0.7" fill="#fff" opacity="0.75"/>
<rect x="1473.8" y="1023.9" width="6.8" height="6.4" fill="#FF0000"/>
<rect x="1473.8" y="1034.1" width="6.8" height="46.4" fill="#FF0000"/>
<rect x="1473.8" y="1084.3" width="6.8" height="12.2" fill="#FF0000"/>
<rect x="1473.8" y="1102.7" width="6.8" height="25.4" fill="#FF0000"/>
<rect x="1473.8" y="1137" width="6.8" height="6.2" fill="#FF0000"/>
<rect x="1473.8" y="1149.4" width="6.8" height="10.8" fill="#FF0000"/>
<rect x="1473.8" y="1170.6" width="6.8" height="21.3" fill="#FF0000"/>
<rect x="1473.8" y="1177.25" width="6.8" height="0.7" fill="#fff" opacity="0.75"/>
<rect x="1473.8" y="1226.6" width="6.8" height="7" fill="#FF0000"/>
<rect x="1643.13" y="797.3" width="6.8" height="6.5" fill="#FF0000"/>
<rect x="1643.13" y="824.1" width="6.8" height="9.9" fill="#FF0000"/>
<rect x="1643.13" y="860.6" width="6.8" height="16.2" fill="#FF0000"/>
<rect x="1643.13" y="884.9" width="6.8" height="6.3" fill="#FF0000"/>
<rect x="1643.13" y="899.7" width="6.8" height="6.3" fill="#FF0000"/>
<rect x="1643.13" y="909.9" width="6.8" height="7.6" fill="#FF0000"/>
<rect x="1643.13" y="921.8" width="6.8" height="19.5" fill="#FF0000"/>
<rect x="1643.13" y="945.5" width="6.8" height="28" fill="#FF0000"/>
<rect x="1643.13" y="977" width="6.8" height="102.1" fill="#FF0000"/>
<rect x="1643.13" y="1040.35" width="6.8" height="0.7" fill="#fff" opacity="0.75"/>
<rect x="1643.13" y="1100" width="6.8" height="15.6" fill="#FF0000"/>
<rect x="1643.13" y="1120.4" width="6.8" height="6.3" fill="#FF0000"/>
<rect x="1643.13" y="1135.2" width="6.8" height="6.3" fill="#FF0000"/>
<rect x="1643.13" y="1146.3" width="6.8" height="17.4" fill="#FF0000"/>
<rect x="1643.13" y="1167" width="6.8" height="6.5" fill="#FF0000"/>
<rect x="1643.13" y="1184.6" width="6.8" height="6.5" fill="#FF0000"/>
<rect x="1643.13" y="1202.2" width="6.8" height="7.1" fill="#FF0000"/>
<rect x="1812.47" y="793.7" width="6.8" height="6.3" fill="#FF0000"/>
<rect x="1812.47" y="840" width="6.8" height="6.3" fill="#FF0000"/>
<rect x="1812.47" y="862.4" width="6.8" height="6.8" fill="#FF0000"/>
<rect x="1812.47" y="890.4" width="6.8" height="8" fill="#FF0000"/>
<rect x="1812.47" y="910" width="6.8" height="6.4" fill="#FF0000"/>
<rect x="1812.47" y="954.1" width="6.8" height="6.8" fill="#FF0000"/>
<rect x="1812.47" y="997.1" width="6.8" height="10.1" fill="#FF0000"/>
<rect x="1812.47" y="1018.6" width="6.8" height="6.8" fill="#FF0000"/>
<rect x="1812.47" y="1061.1" width="6.8" height="14.6" fill="#FF0000"/>
<rect x="1982" y="760.5" width="6.4" height="9.2" fill="#FF0000"/>
<line x1="1456.7" y1="764.37" x2="2005.8" y2="739.57" stroke="#0000FF" stroke-width="1.7" stroke-dasharray="3.7 3.65"/>
<line x1="1456.7" y1="1063.11" x2="2005.8" y2="753.38" stroke="#FF0000" stroke-width="1.7" stroke-dasharray="3.7 3.65"/>
</g>
<rect x="1456.7" y="719.3" width="549.1" height="530" fill="none" stroke="#000" stroke-width="1.4" stroke-linejoin="round"/>
<line x1="1477.2" y1="1249.3" x2="1477.2" y2="1258.3" stroke="#000" stroke-width="1.3"/>
<text x="1477.2" y="1274.2" font-size="15.2" fill="#000" text-anchor="middle" transform="matrix(1,0,0,1.09,0,-114.68)">0.0</text>
<line x1="1578.8" y1="1249.3" x2="1578.8" y2="1258.3" stroke="#000" stroke-width="1.3"/>
<text x="1578.8" y="1274.2" font-size="15.2" fill="#000" text-anchor="middle" transform="matrix(1,0,0,1.09,0,-114.68)">0.2</text>
<line x1="1680.4" y1="1249.3" x2="1680.4" y2="1258.3" stroke="#000" stroke-width="1.3"/>
<text x="1680.4" y="1274.2" font-size="15.2" fill="#000" text-anchor="middle" transform="matrix(1,0,0,1.09,0,-114.68)">0.4</text>
<line x1="1782" y1="1249.3" x2="1782" y2="1258.3" stroke="#000" stroke-width="1.3"/>
<text x="1782" y="1274.2" font-size="15.2" fill="#000" text-anchor="middle" transform="matrix(1,0,0,1.09,0,-114.68)">0.6</text>
<line x1="1883.6" y1="1249.3" x2="1883.6" y2="1258.3" stroke="#000" stroke-width="1.3"/>
<text x="1883.6" y="1274.2" font-size="15.2" fill="#000" text-anchor="middle" transform="matrix(1,0,0,1.09,0,-114.68)">0.8</text>
<line x1="1985.2" y1="1249.3" x2="1985.2" y2="1258.3" stroke="#000" stroke-width="1.3"/>
<text x="1985.2" y="1274.2" font-size="15.2" fill="#000" text-anchor="middle" transform="matrix(1,0,0,1.09,0,-114.68)">1.0</text>
<line x1="1448.1" y1="738.5" x2="1456.7" y2="738.5" stroke="#000" stroke-width="1.3"/>
<text transform="translate(1442.6,738.5) rotate(-90) scale(1,1.09)" font-size="15.2" fill="#000" text-anchor="middle">1.0</text>
<line x1="1448.1" y1="817.95" x2="1456.7" y2="817.95" stroke="#000" stroke-width="1.3"/>
<text transform="translate(1442.6,817.95) rotate(-90) scale(1,1.09)" font-size="15.2" fill="#000" text-anchor="middle">0.5</text>
<line x1="1448.1" y1="897.4" x2="1456.7" y2="897.4" stroke="#000" stroke-width="1.3"/>
<text transform="translate(1442.6,897.4) rotate(-90) scale(1,1.09)" font-size="15.2" fill="#000" text-anchor="middle">0.0</text>
<line x1="1448.1" y1="976.85" x2="1456.7" y2="976.85" stroke="#000" stroke-width="1.3"/>
<text transform="translate(1442.6,976.85) rotate(-90) scale(1,1.09)" font-size="15.2" fill="#000" text-anchor="middle">−0.5</text>
<line x1="1448.1" y1="1056.3" x2="1456.7" y2="1056.3" stroke="#000" stroke-width="1.3"/>
<text transform="translate(1442.6,1056.3) rotate(-90) scale(1,1.09)" font-size="15.2" fill="#000" text-anchor="middle">−1.0</text>
<line x1="1448.1" y1="1135.75" x2="1456.7" y2="1135.75" stroke="#000" stroke-width="1.3"/>
<text transform="translate(1442.6,1135.75) rotate(-90) scale(1,1.09)" font-size="15.2" fill="#000" text-anchor="middle">−1.5</text>
<line x1="1448.1" y1="1215.2" x2="1456.7" y2="1215.2" stroke="#000" stroke-width="1.3"/>
<text transform="translate(1442.6,1215.2) rotate(-90) scale(1,1.09)" font-size="15.2" fill="#000" text-anchor="middle">−2.0</text>
<text x="1716.86" y="1291.3" font-size="17.5" fill="#000" textLength="28.18" lengthAdjust="spacingAndGlyphs">Cor</text>
<text transform="translate(1425.2,1005.45) rotate(-90)" x="-0.07" y="0" font-size="17.2" fill="#000" textLength="43.12" lengthAdjust="spacingAndGlyphs">Value</text>
<rect x="1952.6" y="1196.5" width="53.1" height="53.1" fill="#fff" stroke="#000" stroke-width="1.3"/>
<circle cx="1966.1" cy="1214.4" r="3.6" fill="#0000FF"/>
<rect x="1962.7" y="1228.9" width="6.8" height="6.8" fill="#FF0000"/>
<text x="1979.9" y="1219.7" font-size="15.2" fill="#000">R2</text>
<text x="1979.9" y="1237.3" font-size="15.2" fill="#000">Q2</text>
</g>
</svg>
</body></html>
